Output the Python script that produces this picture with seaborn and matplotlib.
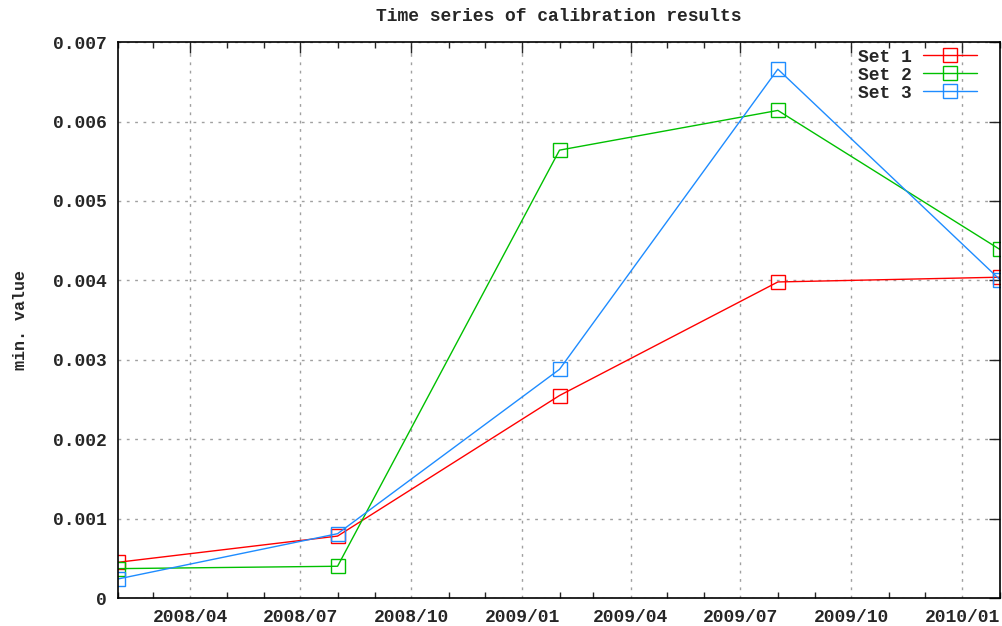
import pandas as pd
import matplotlib
matplotlib.use("Agg")
import matplotlib.pyplot as plt
import matplotlib.dates as mdates
import seaborn as sns

# data
dates = ["2008-02-01", "2008-08-01", "2009-02-01", "2009-08-01", "2010-02-01"]
set1 = [0.00045, 0.00078, 0.00255, 0.00398, 0.00404]
set2 = [0.00037, 0.00040, 0.00564, 0.00614, 0.00439]
set3 = [0.00024, 0.00081, 0.00288, 0.00666, 0.00401]
names = ["Set 1", "Set 2", "Set 3"]
colors = ["#ff0000", "#00c000", "#1e8cff"]

sns.set_style("white")
plt.rcParams["font.family"] = ["Liberation Mono", "DejaVu Sans Mono"]
plt.rcParams["font.weight"] = "bold"

fig = plt.figure(figsize=(10.02, 6.26), dpi=100)
ax = fig.add_axes([0.1178, 0.0447, 0.880, 0.888])

x = pd.to_datetime(dates)
for name, vals, c in zip(names, [set1, set2, set3], colors):
    sns.lineplot(x=x, y=vals, ax=ax, color=c, lw=1.0, marker="s", markersize=10,
                 markerfacecolor="none", markeredgecolor=c, markeredgewidth=1.0,
                 label=name)

ax.set_xlim(pd.Timestamp("2008-02-01"), pd.Timestamp("2010-02-01"))
ax.set_ylim(0, 0.007)
ax.set_yticks([0, 0.001, 0.002, 0.003, 0.004, 0.005, 0.006, 0.007])
ax.set_yticklabels(["0", "0.001", "0.002", "0.003", "0.004", "0.005", "0.006", "0.007"])
ax.xaxis.set_major_locator(mdates.MonthLocator(bymonth=[1, 4, 7, 10]))
ax.xaxis.set_major_formatter(mdates.DateFormatter("%Y/%m"))
ax.xaxis.set_minor_locator(mdates.MonthLocator())

ax.tick_params(axis="both", which="major", direction="in", length=8, width=1,
               labelsize=13, pad=8, top=True, right=True)
ax.tick_params(axis="both", which="minor", direction="in", length=4, width=1,
               top=True, bottom=True)
for lab in ax.get_xticklabels() + ax.get_yticklabels():
    lab.set_fontweight("bold")

ax.grid(True, which="major", color="#a0a0a0", linestyle=(0, (2, 4)), linewidth=1)
for s in ax.spines.values():
    s.set_visible(True)
    s.set_color("black")
    s.set_linewidth(1.2)

ax.set_title("Time series of calibration results", fontsize=13, fontweight="bold", pad=15)
ax.set_ylabel("min. value", fontsize=12, fontweight="bold", labelpad=18)
ax.set_xlabel("")

leg = ax.legend(loc="upper right", bbox_to_anchor=(0.974, 0.988), frameon=False,
                markerfirst=False, handlelength=3.0, fontsize=13, borderpad=0,
                borderaxespad=0, labelspacing=0.05, handletextpad=0.6)

plt.savefig("out.png", dpi=100)
